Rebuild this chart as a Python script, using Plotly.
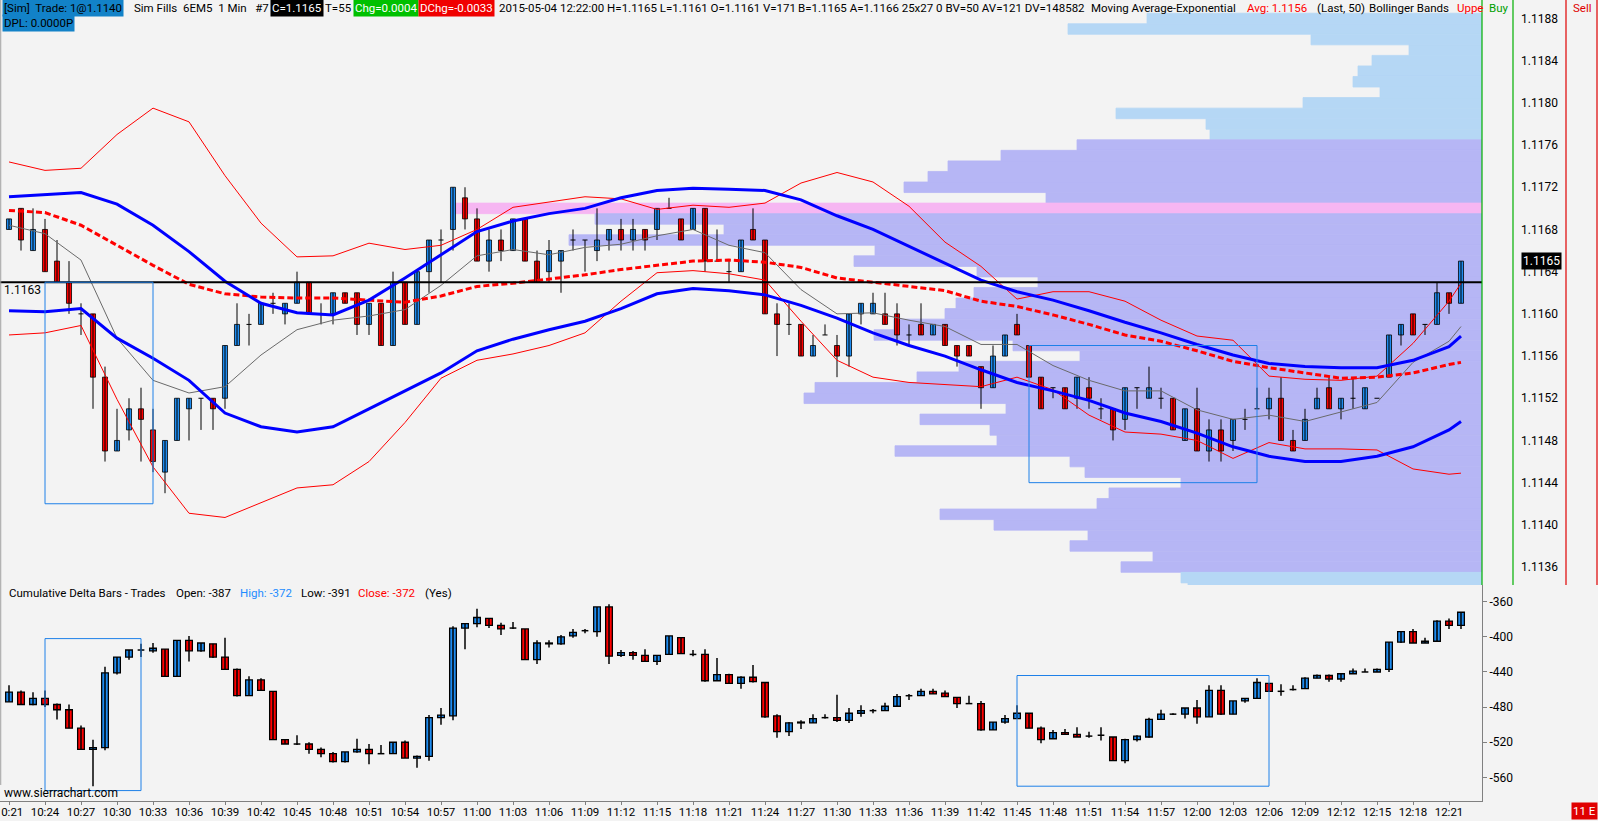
import plotly.graph_objects as go

# 6EM5, 1 minute bars from 10:21 to 12:22 (bar index 0..121)
tick_index = list(range(0, 121, 3))
tick_labels = ["10:21", "10:24", "10:27", "10:30", "10:33", "10:36", "10:39", "10:42", "10:45",
               "10:48", "10:51", "10:54", "10:57", "11:00", "11:03", "11:06", "11:09", "11:12",
               "11:15", "11:18", "11:21", "11:24", "11:27", "11:30", "11:33", "11:36", "11:39",
               "11:42", "11:45", "11:48", "11:51", "11:54", "11:57", "12:00", "12:03", "12:06",
               "12:09", "12:12", "12:15", "12:18", "12:21"]

price_open = [1.1168, 1.1170, 1.1166, 1.1168, 1.1165, 1.1163, 1.1160, 1.1160, 1.1154, 1.1147,
              1.1149, 1.1151, 1.1149, 1.1145, 1.1148, 1.1151, 1.1152, 1.1152, 1.1152, 1.1157,
              1.1159, 1.1159, 1.1161, 1.1160, 1.1161, 1.1163, 1.1160, 1.1160, 1.1162, 1.1162,
              1.1159, 1.1161, 1.1157, 1.1163, 1.1159, 1.1164, 1.1167, 1.1168, 1.1171, 1.1169,
              1.1165, 1.1167, 1.1166, 1.1169, 1.1165, 1.1164, 1.1165, 1.1167, 1.1167, 1.1166,
              1.1167, 1.1168, 1.1167, 1.1168, 1.1168, 1.1170, 1.1169, 1.1168, 1.1170, 1.1165,
              1.1164, 1.1164, 1.1168, 1.1167, 1.1160, 1.1159, 1.1159, 1.1156, 1.1158, 1.1157,
              1.1156, 1.1160, 1.1160, 1.1160, 1.1160, 1.1158, 1.1159, 1.1158, 1.1159, 1.1157,
              1.1157, 1.1155, 1.1153, 1.1156, 1.1159, 1.1157, 1.1154, 1.1153, 1.1153, 1.1152,
              1.1153, 1.1151, 1.1151, 1.1150, 1.1153, 1.1152, 1.1152, 1.1152, 1.1148, 1.1151,
              1.1147, 1.1149, 1.1148, 1.1150, 1.1151, 1.1151, 1.1152, 1.1148, 1.1148, 1.1151,
              1.1153, 1.1151, 1.1152, 1.1151, 1.1152, 1.1154, 1.1158, 1.1160, 1.1159, 1.1159,
              1.1162, 1.1161]
price_high = [1.1169, 1.1170, 1.1170, 1.1169, 1.1167, 1.1165, 1.1161, 1.1160, 1.1155, 1.1151,
              1.1152, 1.1153, 1.1151, 1.1148, 1.1152, 1.1152, 1.1152, 1.1152, 1.1157, 1.1161,
              1.1160, 1.1161, 1.1162, 1.1161, 1.1164, 1.1163, 1.1161, 1.1162, 1.1162, 1.1162,
              1.1161, 1.1161, 1.1164, 1.1163, 1.1164, 1.1167, 1.1168, 1.1172, 1.1172, 1.1170,
              1.1168, 1.1168, 1.1169, 1.1169, 1.1166, 1.1167, 1.1166, 1.1168, 1.1167, 1.1170,
              1.1168, 1.1169, 1.1169, 1.1168, 1.1170, 1.1171, 1.1169, 1.1170, 1.1170, 1.1168,
              1.1165, 1.1167, 1.1170, 1.1167, 1.1161, 1.1161, 1.1159, 1.1158, 1.1159, 1.1158,
              1.1160, 1.1161, 1.1162, 1.1162, 1.1161, 1.1159, 1.1161, 1.1159, 1.1159, 1.1157,
              1.1157, 1.1155, 1.1157, 1.1158, 1.1160, 1.1157, 1.1154, 1.1153, 1.1153, 1.1154,
              1.1154, 1.1152, 1.1151, 1.1153, 1.1153, 1.1155, 1.1153, 1.1152, 1.1151, 1.1153,
              1.1150, 1.1150, 1.1150, 1.1151, 1.1153, 1.1153, 1.1154, 1.1149, 1.1151, 1.1153,
              1.1154, 1.1152, 1.1154, 1.1153, 1.1152, 1.1158, 1.1159, 1.1160, 1.1159, 1.1163,
              1.1162, 1.1165]
price_low = [1.1168, 1.1166, 1.1166, 1.1164, 1.1163, 1.1160, 1.1158, 1.1151, 1.1146, 1.1147,
             1.1148, 1.1146, 1.1145, 1.1143, 1.1148, 1.1148, 1.1149, 1.1149, 1.1151, 1.1157,
             1.1157, 1.1159, 1.1160, 1.1159, 1.1161, 1.1160, 1.1159, 1.1159, 1.1161, 1.1158,
             1.1158, 1.1157, 1.1157, 1.1159, 1.1159, 1.1162, 1.1163, 1.1166, 1.1168, 1.1165,
             1.1164, 1.1165, 1.1166, 1.1165, 1.1163, 1.1163, 1.1162, 1.1166, 1.1164, 1.1165,
             1.1166, 1.1166, 1.1166, 1.1166, 1.1167, 1.1170, 1.1167, 1.1168, 1.1164, 1.1165,
             1.1163, 1.1164, 1.1167, 1.1160, 1.1156, 1.1158, 1.1156, 1.1156, 1.1158, 1.1154,
             1.1155, 1.1159, 1.1160, 1.1159, 1.1157, 1.1157, 1.1158, 1.1158, 1.1157, 1.1155,
             1.1156, 1.1151, 1.1153, 1.1156, 1.1158, 1.1154, 1.1151, 1.1152, 1.1151, 1.1151,
             1.1151, 1.1150, 1.1148, 1.1149, 1.1151, 1.1152, 1.1151, 1.1149, 1.1148, 1.1147,
             1.1146, 1.1146, 1.1147, 1.1149, 1.1151, 1.1150, 1.1148, 1.1147, 1.1148, 1.1151,
             1.1151, 1.1150, 1.1151, 1.1151, 1.1152, 1.1154, 1.1157, 1.1158, 1.1158, 1.1159,
             1.1160, 1.1161]
price_close = [1.1169, 1.1167, 1.1168, 1.1164, 1.1163, 1.1161, 1.1160, 1.1154, 1.1147, 1.1148,
               1.1151, 1.1150, 1.1146, 1.1148, 1.1152, 1.1152, 1.1152, 1.1151, 1.1157, 1.1159,
               1.1159, 1.1161, 1.1161, 1.1161, 1.1163, 1.1160, 1.1160, 1.1162, 1.1161, 1.1159,
               1.1161, 1.1157, 1.1163, 1.1159, 1.1164, 1.1167, 1.1167, 1.1172, 1.1169, 1.1165,
               1.1167, 1.1166, 1.1169, 1.1165, 1.1163, 1.1166, 1.1166, 1.1167, 1.1167, 1.1167,
               1.1168, 1.1167, 1.1168, 1.1167, 1.1170, 1.1170, 1.1167, 1.1170, 1.1165, 1.1165,
               1.1164, 1.1167, 1.1167, 1.1160, 1.1159, 1.1159, 1.1156, 1.1157, 1.1158, 1.1156,
               1.1160, 1.1161, 1.1161, 1.1159, 1.1158, 1.1158, 1.1158, 1.1159, 1.1157, 1.1156,
               1.1156, 1.1153, 1.1156, 1.1158, 1.1158, 1.1154, 1.1151, 1.1153, 1.1151, 1.1154,
               1.1152, 1.1151, 1.1149, 1.1153, 1.1153, 1.1153, 1.1152, 1.1149, 1.1151, 1.1147,
               1.1149, 1.1147, 1.1150, 1.1150, 1.1151, 1.1152, 1.1148, 1.1147, 1.1150, 1.1152,
               1.1151, 1.1152, 1.1152, 1.1153, 1.1152, 1.1158, 1.1159, 1.1158, 1.1159, 1.1162,
               1.1161, 1.1165]

# cumulative delta bars (lower pane)
delta_open = [-474, -463, -477, -470, -477, -483, -504, -528, -526, -441,
              -423, -415, -416, -414, -445, -404, -416, -408, -423, -437,
              -467, -449, -462, -517, -522, -522, -528, -533, -542, -531,
              -528, -533, -533, -520, -538, -536, -492, -490, -390, -385,
              -379, -387, -390, -391, -426, -408, -408, -399, -393, -394,
              -366, -421, -418, -421, -428, -420, -401, -420, -420, -450,
              -443, -453, -446, -452, -490, -508, -498, -498, -492, -492,
              -495, -487, -484, -484, -479, -467, -467, -462, -464, -469,
              -476, -476, -506, -497, -493, -487, -504, -516, -509, -511,
              -513, -512, -514, -541, -517, -514, -494, -488, -488, -481,
              -491, -461, -488, -473, -470, -453, -462, -460, -459, -447,
              -444, -448, -442, -440, -440, -437, -406, -394, -407, -405,
              -382, -387]
delta_high = [-455, -461, -463, -461, -476, -477, -501, -517, -434, -423,
              -415, -408, -407, -414, -404, -399, -407, -408, -401, -436,
              -445, -447, -462, -517, -512, -520, -526, -531, -531, -516,
              -522, -523, -520, -518, -535, -489, -481, -388, -385, -368,
              -379, -384, -383, -391, -404, -404, -398, -391, -391, -366,
              -363, -415, -416, -414, -421, -399, -401, -415, -414, -424,
              -442, -445, -432, -452, -488, -497, -495, -488, -488, -466,
              -481, -478, -482, -475, -465, -465, -459, -459, -461, -469,
              -467, -473, -497, -489, -478, -487, -502, -506, -505, -503,
              -508, -503, -514, -516, -512, -492, -483, -487, -481, -472,
              -455, -455, -473, -470, -447, -453, -454, -455, -446, -443,
              -443, -442, -436, -436, -436, -406, -394, -391, -401, -381,
              -379, -372]
delta_low = [-474, -477, -478, -480, -494, -504, -528, -570, -529, -443,
             -426, -423, -418, -445, -445, -428, -417, -424, -437, -468,
             -467, -461, -517, -522, -523, -533, -537, -543, -543, -532,
             -545, -533, -533, -538, -549, -541, -500, -495, -414, -389,
             -390, -398, -391, -426, -431, -412, -409, -401, -396, -400,
             -431, -423, -426, -428, -432, -420, -419, -422, -451, -450,
             -453, -459, -452, -492, -515, -513, -505, -498, -493, -497,
             -498, -491, -487, -484, -479, -472, -467, -465, -468, -481,
             -476, -507, -506, -499, -493, -504, -521, -516, -511, -514,
             -515, -518, -541, -544, -519, -515, -494, -489, -493, -499,
             -491, -489, -488, -475, -470, -462, -467, -461, -459, -447,
             -451, -451, -442, -440, -440, -440, -407, -407, -407, -405,
             -391, -391]
delta_close = [-463, -477, -470, -477, -483, -504, -528, -526, -441, -423,
               -415, -415, -413, -445, -404, -416, -407, -423, -437, -467,
               -449, -461, -517, -522, -522, -528, -533, -542, -531, -528,
               -533, -533, -520, -538, -536, -492, -489, -390, -385, -378,
               -387, -391, -390, -426, -407, -407, -400, -395, -393, -366,
               -422, -418, -421, -428, -421, -399, -419, -420, -450, -443,
               -453, -446, -451, -491, -508, -498, -497, -493, -492, -495,
               -487, -484, -484, -479, -468, -467, -462, -465, -468, -476,
               -476, -506, -497, -493, -487, -504, -517, -509, -511, -514,
               -513, -512, -541, -517, -513, -494, -488, -488, -481, -491,
               -461, -488, -473, -470, -452, -462, -462, -460, -447, -444,
               -448, -442, -439, -440, -437, -406, -394, -407, -405, -382,
               -387, -372]

# studies, read every third bar
study_index = tick_index + [121]
band_upper = [1.11711, 1.11713, 1.11715, 1.11704, 1.11684, 1.11659, 1.11631, 1.11610, 1.11601, 1.11599,
              1.11613, 1.11634, 1.11656, 1.11678, 1.11688, 1.11695, 1.11700, 1.11710, 1.11717, 1.11719,
              1.11718, 1.11717, 1.11708, 1.11693, 1.11680, 1.11664, 1.11648, 1.11632, 1.11621, 1.11613,
              1.11603, 1.11592, 1.11582, 1.11571, 1.11561, 1.11553, 1.11550, 1.11549, 1.11549, 1.11556,
              1.11569, 1.11579]
band_lower = [1.11603, 1.11602, 1.11605, 1.11577, 1.11558, 1.11537, 1.11506, 1.11493, 1.11488, 1.11493,
              1.11510, 1.11527, 1.11544, 1.11565, 1.11576, 1.11585, 1.11593, 1.11605, 1.11619, 1.11624,
              1.11622, 1.11618, 1.11608, 1.11596, 1.11582, 1.11570, 1.11560, 1.11547, 1.11535, 1.11527,
              1.11518, 1.11506, 1.11498, 1.11487, 1.11474, 1.11465, 1.11460, 1.11460, 1.11465, 1.11474,
              1.11490, 1.11498]
ema_50 = [1.11698, 1.11696, 1.11684, 1.11665, 1.11646, 1.11628, 1.11619, 1.11616, 1.11615, 1.11615,
          1.11613, 1.11611, 1.11617, 1.11626, 1.11629, 1.11633, 1.11637, 1.11642, 1.11646, 1.11650,
          1.11651, 1.11649, 1.11644, 1.11634, 1.11630, 1.11626, 1.11622, 1.11612, 1.11607, 1.11599,
          1.11590, 1.11580, 1.11574, 1.11565, 1.11555, 1.11549, 1.11544, 1.11539, 1.11540, 1.11544,
          1.11552, 1.11554]
bb_upper = [1.11744, 1.11736, 1.11738, 1.11770, 1.11795, 1.11782, 1.11731, 1.11686, 1.11654, 1.11655,
            1.11667, 1.11661, 1.11665, 1.11680, 1.11701, 1.11706, 1.11711, 1.11709, 1.11699, 1.11703,
            1.11701, 1.11705, 1.11724, 1.11734, 1.11725, 1.11702, 1.11668, 1.11645, 1.11614, 1.11621,
            1.11621, 1.11612, 1.11594, 1.11579, 1.11575, 1.11541, 1.11538, 1.11537, 1.11541, 1.11572,
            1.11612, 1.11629]
bb_lower = [1.11580, 1.11582, 1.11589, 1.11519, 1.11455, 1.11411, 1.11407, 1.11421, 1.11435, 1.11438,
            1.11460, 1.11497, 1.11539, 1.11556, 1.11562, 1.11570, 1.11582, 1.11612, 1.11639, 1.11641,
            1.11638, 1.11632, 1.11593, 1.11556, 1.11540, 1.11535, 1.11533, 1.11531, 1.11540, 1.11528,
            1.11504, 1.11488, 1.11486, 1.11480, 1.11463, 1.11478, 1.11472, 1.11472, 1.11471, 1.11453,
            1.11448, 1.11449]
ma_fast = [1.11684, 1.11676, 1.11651, 1.11577, 1.11537, 1.11525, 1.11531, 1.11561, 1.11585, 1.11594,
           1.11598, 1.11604, 1.11627, 1.11655, 1.11661, 1.11656, 1.11663, 1.11666, 1.11674, 1.11680,
           1.11665, 1.11658, 1.11623, 1.11600, 1.11601, 1.11594, 1.11588, 1.11571, 1.11571, 1.11551,
           1.11537, 1.11527, 1.11527, 1.11509, 1.11500, 1.11504, 1.11498, 1.11507, 1.11516, 1.11554,
           1.11574, 1.11588]

# volume profile, 1.1188 down to 1.1134
profile_price = [round(1.1188 - 0.0001 * k, 4) for k in range(55)]
profile_volume = [335, 414, 171, 73, 110, 124, 129, 102, 179, 366, 276, 272,
                  405, 481, 534, 554, 578, 436, 1027, 887, 758, 913, 607, 628, 505, 444,
                  508, 526, 537, 588, 608, 469, 402, 523, 565, 667, 678, 476, 562, 492,
                  485, 587, 412, 397, 301, 373, 385, 542, 488, 394, 412, 329, 361,
                  301, 294]
value_area_high = 1.1176
value_area_low = 1.1136

last_trade_line = 1.1163
last_price = 1.1165
price_ticks = [1.1136, 1.1140, 1.1144, 1.1148, 1.1152, 1.1156, 1.1160, 1.1164,
               1.1168, 1.1172, 1.1176, 1.1180, 1.1184, 1.1188]
delta_ticks = [-360, -400, -440, -480, -520, -560]

# highlight boxes: (x0, x1, y0, y1)
price_boxes = [(3, 12, 1.1142, 1.1163), (85, 104, 1.1144, 1.1157)]
delta_boxes = [(3, 11, -575, -402), (84, 105, -570, -444)]

# ---------------------------------------------------------------
W, H = 1598, 821
PLOT_W, PLOT_H = 1482, 801
SPLIT = 585
BG = "#f3f3f3"
UP = "#1e8cf0"
DOWN = "#ff0000"
FONT = "Roboto"
HFONT = 11.5


def px(x):
    return x / PLOT_W


def py(y):
    return (PLOT_H - y) / PLOT_H


def candles(o, h, l, c, xa, ya, body_w, edge_w, wick_w):
    wx, wy = [], []
    bx, bbase, blen, bcol = [], [], [], []
    for i, (oo, hh, ll, cc) in enumerate(zip(o, h, l, c)):
        wx += [i, i, None]
        wy += [ll, hh, None]
        if abs(cc - oo) < 1e-9:
            wx += [i - body_w / 2, i + body_w / 2, None]
            wy += [oo, oo, None]
        else:
            bx.append(i)
            bbase.append(min(oo, cc))
            blen.append(abs(cc - oo))
            bcol.append(UP if cc > oo else DOWN)
    wick = go.Scatter(x=wx, y=wy, mode="lines", line=dict(color="black", width=wick_w),
                      xaxis=xa, yaxis=ya, hoverinfo="skip")
    body = go.Bar(x=bx, y=blen, base=bbase, width=body_w,
                  marker=dict(color=bcol, line=dict(color="black", width=edge_w)),
                  xaxis=xa, yaxis=ya, hoverinfo="skip")
    return [wick, body]


fig = go.Figure()

poc = max(profile_volume)
prof_colors = []
for p, v in zip(profile_price, profile_volume):
    if v == poc:
        prof_colors.append("#f6b6f2")
    elif value_area_low <= p <= value_area_high:
        prof_colors.append("#b6b6f5")
    else:
        prof_colors.append("#b5d7f5")
fig.add_trace(go.Bar(x=profile_volume, y=profile_price, orientation="h", width=0.0001,
                     marker=dict(color=prof_colors, line=dict(color=prof_colors, width=0.8)),
                     xaxis="x", yaxis="y", hoverinfo="skip"))

for t in candles(price_open, price_high, price_low, price_close, "x3", "y", 0.42, 0.8, 1):
    fig.add_trace(t)
for t in candles(delta_open, delta_high, delta_low, delta_close, "x2", "y2", 0.56, 1.3, 1.5):
    fig.add_trace(t)

studies = [
    (bb_upper, dict(color="#ff0000", width=1)),
    (bb_lower, dict(color="#ff0000", width=1)),
    (ma_fast, dict(color="#6a6a6a", width=1)),
    (ema_50, dict(color="#ff0000", width=3, dash="6px,3px")),
    (band_upper, dict(color="#0000ff", width=3)),
    (band_lower, dict(color="#0000ff", width=3)),
]
for vals, ln in studies:
    fig.add_trace(go.Scatter(x=study_index, y=vals, mode="lines", line=ln,
                             xaxis="x3", yaxis="y", hoverinfo="skip"))

shapes = []
shapes.append(dict(type="line", xref="paper", yref="y", x0=0, x1=1,
                   y0=last_trade_line, y1=last_trade_line, line=dict(color="black", width=2)))
for x0, x1, y0, y1 in price_boxes:
    shapes.append(dict(type="rect", xref="x3", yref="y", x0=x0, x1=x1, y0=y0, y1=y1,
                       line=dict(color="#1e80e8", width=1)))
for x0, x1, y0, y1 in delta_boxes:
    shapes.append(dict(type="rect", xref="x2", yref="y2", x0=x0, x1=x1, y0=y0, y1=y1,
                       line=dict(color="#1e80e8", width=1)))
for xp, col in [(1482, "#00b000"), (1513, "#00b000"), (1566, "#e00000"), (1597, "#e00000")]:
    shapes.append(dict(type="line", xref="paper", yref="paper", x0=px(xp), x1=px(xp),
                       y0=py(SPLIT), y1=1.0, line=dict(color=col, width=1.2)))
shapes.append(dict(type="line", xref="paper", yref="paper", x0=0.0005, x1=0.0005,
                   y0=0.02, y1=1.0, line=dict(color="#a0a0a0", width=1)))

ann = []


def label(text, x, y, color="black", bg=None, size=HFONT, xanchor="left"):
    a = dict(text=text, xref="paper", yref="paper", x=px(x), y=py(y), xanchor=xanchor,
             yanchor="middle", showarrow=False, font=dict(family=FONT, size=size, color=color),
             borderpad=1)
    if bg:
        a["bgcolor"] = bg
    ann.append(a)


header = [
    ("[Sim]  Trade: 1@1.1140", 2, "black", "#1282c8"),
    ("Sim Fills  6EM5  1 Min   #7", 132, "black", None),
    ("C=1.1165", 270, "white", "black"),
    ("T=55", 323, "black", None),
    ("Chg=0.0004", 353, "white", "#00c000"),
    ("DChg=-0.0033", 418, "white", "#f00000"),
    ("2015-05-04 12:22:00 H=1.1165 L=1.1161 O=1.1161 V=171", 497, "black", None),
    ("B=1.1165 A=1.1166 25x27 0 BV=50 AV=121 DV=148582", 796, "black", None),
    ("Moving Average-Exponential", 1089, "black", None),
    ("Avg: 1.1156", 1245, "#ff0000", None),
    ("(Last, 50)", 1315, "black", None),
    ("Bollinger Bands", 1367, "black", None),
    ("Uppe", 1455, "#ff0000", None),
    ("Buy", 1487, "#00a000", None),
    ("Sell", 1571, "#e00000", None),
]
for text, x, col, bg in header:
    label(text, x, 8, col, bg)
label("DPL: 0.0000P", 2, 23, "black", "#1282c8")

delta_header = [
    ("Cumulative Delta Bars - Trades", 7, "black"),
    ("Open: -387", 174, "black"),
    ("High: -372", 238, "#1e8cff"),
    ("Low: -391", 299, "black"),
    ("Close: -372", 356, "#ff0000"),
    ("(Yes)", 423, "black"),
]
for text, x, col in delta_header:
    label(text, x, 593, col)

label("1.1163", 2, 290, size=12)
label("www.sierrachart.com", 2, 793, size=12)
label("11 E", 1598, 811, "white", "#e00000", xanchor="right")
ann.append(dict(text="1.1165", xref="paper", yref="y", x=px(1521), y=last_price, xanchor="left",
                yanchor="middle", showarrow=False, bgcolor="black", borderpad=1,
                font=dict(family=FONT, size=12, color="white")))

xr = [-0.75, 122.75]
fig.update_layout(
    width=W, height=H,
    margin=dict(l=0, r=W - PLOT_W, t=0, b=H - PLOT_H, autoexpand=False),
    paper_bgcolor=BG, plot_bgcolor=BG,
    showlegend=False, hovermode=False, barmode="overlay",
    font=dict(family=FONT, size=12, color="black"),
    xaxis=dict(domain=[0, 1], anchor="y", range=[PLOT_W, 0], visible=False),
    xaxis3=dict(overlaying="x", anchor="y", range=xr, visible=False),
    xaxis2=dict(domain=[0, 1], anchor="y2", range=xr, tickmode="array", tickvals=tick_index,
                ticktext=tick_labels, ticks="outside", ticklen=3, tickcolor="#808080",
                showline=True, linecolor="#808080", linewidth=1, showgrid=False,
                zeroline=False, ticklabeloverflow="allow", automargin=False,
                ticklabelstandoff=-3,
                tickfont=dict(family=FONT, size=11.5, color="black")),
    yaxis=dict(domain=[py(SPLIT), 1], anchor="x", side="right", range=[1.11343, 1.118975],
               tickmode="array", tickvals=price_ticks, ticktext=[f"{v:.4f}" for v in price_ticks],
               ticks="", showgrid=False, zeroline=False, showline=False, ticklabelstandoff=38,
               automargin=False, tickfont=dict(family=FONT, size=12, color="black")),
    yaxis2=dict(domain=[0, py(SPLIT)], anchor="x2", side="right", range=[-586.86, -340.99],
                tickmode="array", tickvals=delta_ticks, ticktext=[str(v) for v in delta_ticks],
                ticks="outside", ticklen=4, tickcolor="#808080", showline=True,
                linecolor="#808080", linewidth=1, showgrid=False, zeroline=False,
                automargin=False, tickfont=dict(family=FONT, size=12, color="black")),
    shapes=shapes,
    annotations=ann,
)

fig.write_html("out.html", config={"displayModeBar": False},
               post_script="document.body.style.margin='0px';")
